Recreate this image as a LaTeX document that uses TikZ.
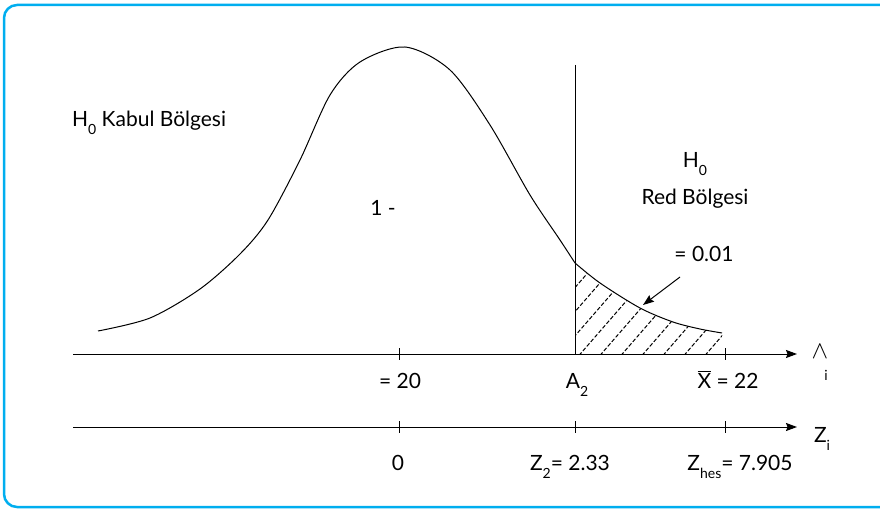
\documentclass[tikz,border=0pt]{standalone}
\usepackage{fontspec}
\setmainfont{Lato}
\usetikzlibrary{arrows.meta, positioning}
\definecolor{framecyan}{RGB}{0,174,239}
\newcommand{\lowidx}[1]{\raisebox{-8pt}{\fontsize{14}{14}\selectfont #1}}

\begin{document}
\begin{tikzpicture}[x=1pt, y=-1pt,
  lbl/.style={font=\fontsize{21}{24}\selectfont, inner sep=0pt, anchor=base},
  axisline/.style={line width=1pt, -{Stealth[length=11pt, width=8pt, inset=1.5pt]}},
  tickmark/.style={line width=1pt},
  curveline/.style={line width=1pt},
  hatchline/.style={line width=1pt, dash pattern=on 4pt off 2pt}
]
  \clip (0,0) rectangle (880,510);
  % frame
  \draw[framecyan, line width=2.5pt, rounded corners=13pt] (4,5) rectangle (920,507);

  % axes
  \coordinate (xstart) at (73,354);
  \coordinate (xend) at (797,354);
  \coordinate (zstart) at (73,427);
  \coordinate (zend) at (797,427);
  \draw[axisline] (xstart) -- (xend);
  \draw[axisline] (zstart) -- (zend);
  \foreach \t in {399,725} \draw[tickmark] (\t,348) -- (\t,360);
  \foreach \t in {399,575,725} \draw[tickmark] (\t,421) -- (\t,433);

  % critical value line
  \coordinate (crittop) at (575,65);
  \coordinate (critfoot) at (575,354);
  \draw[curveline] (crittop) -- (critfoot);

  % density curve
  \draw[curveline] plot[smooth] coordinates {(98,331) (150,318) (200,289) (240,254) (268,220) (300,160) (330,95) (360,62) (405,47) (450,70) (490,125) (530,195) (560,240) (575,263)};
  \draw[curveline] plot[smooth] coordinates {(575,263) (600,283) (640,308) (673,322) (700,329) (722,333)};

  % rejection area
  \begin{scope}
    \clip (575,354) -- plot[smooth] coordinates {(575,263) (600,283) (640,308) (673,322) (700,329) (722,333)} -- (724,354) -- cycle;
    \foreach \k in {-5,...,8} \draw[hatchline] (575+21*\k,360) -- ++(120,-138);
  \end{scope}

  % alpha arrow
  \coordinate (arrowfrom) at (680,277);
  \coordinate (arrowto) at (643,305);
  \draw[line width=1pt, -{Stealth[length=11pt, width=8pt, inset=1.5pt]}] (arrowfrom) -- (arrowto);

  % labels
  \node[lbl, anchor=base west] (kabul) at (72,127) {H\lowidx{0} Kabul Bölgesi};
  \node[lbl] (hnull) at (695,168) {H\lowidx{0}};
  \node[lbl] (red) at (695,205) {Red Bölgesi};
  \node[lbl] (oneminus) at (383,216) {1 -};
  \node[lbl] (alpha) at (704,262) {= 0.01};
  \node[lbl] (mu) at (400,388) {= 20};
  \node[lbl] (atwo) at (577,388) {A\lowidx{2}};
  \node[lbl] (xbar) at (728,388) {$\overline{\mbox{X}}$ = 22};
  \node[lbl, font=\fontsize{26}{26}\selectfont] (hat) at (820,358) {$\wedge$};
  \node[lbl, font=\fontsize{14}{14}\selectfont] (hatidx) at (826,380) {i};
  \node[lbl] (zero) at (398,470) {0};
  \node[lbl] (ztwo) at (570,470) {Z\lowidx{2}= 2.33};
  \node[lbl] (zhes) at (740,470) {Z\lowidx{hes}= 7.905};
  \node[lbl] (zi) at (822,442) {Z\lowidx{i}};
\end{tikzpicture}
\end{document}
